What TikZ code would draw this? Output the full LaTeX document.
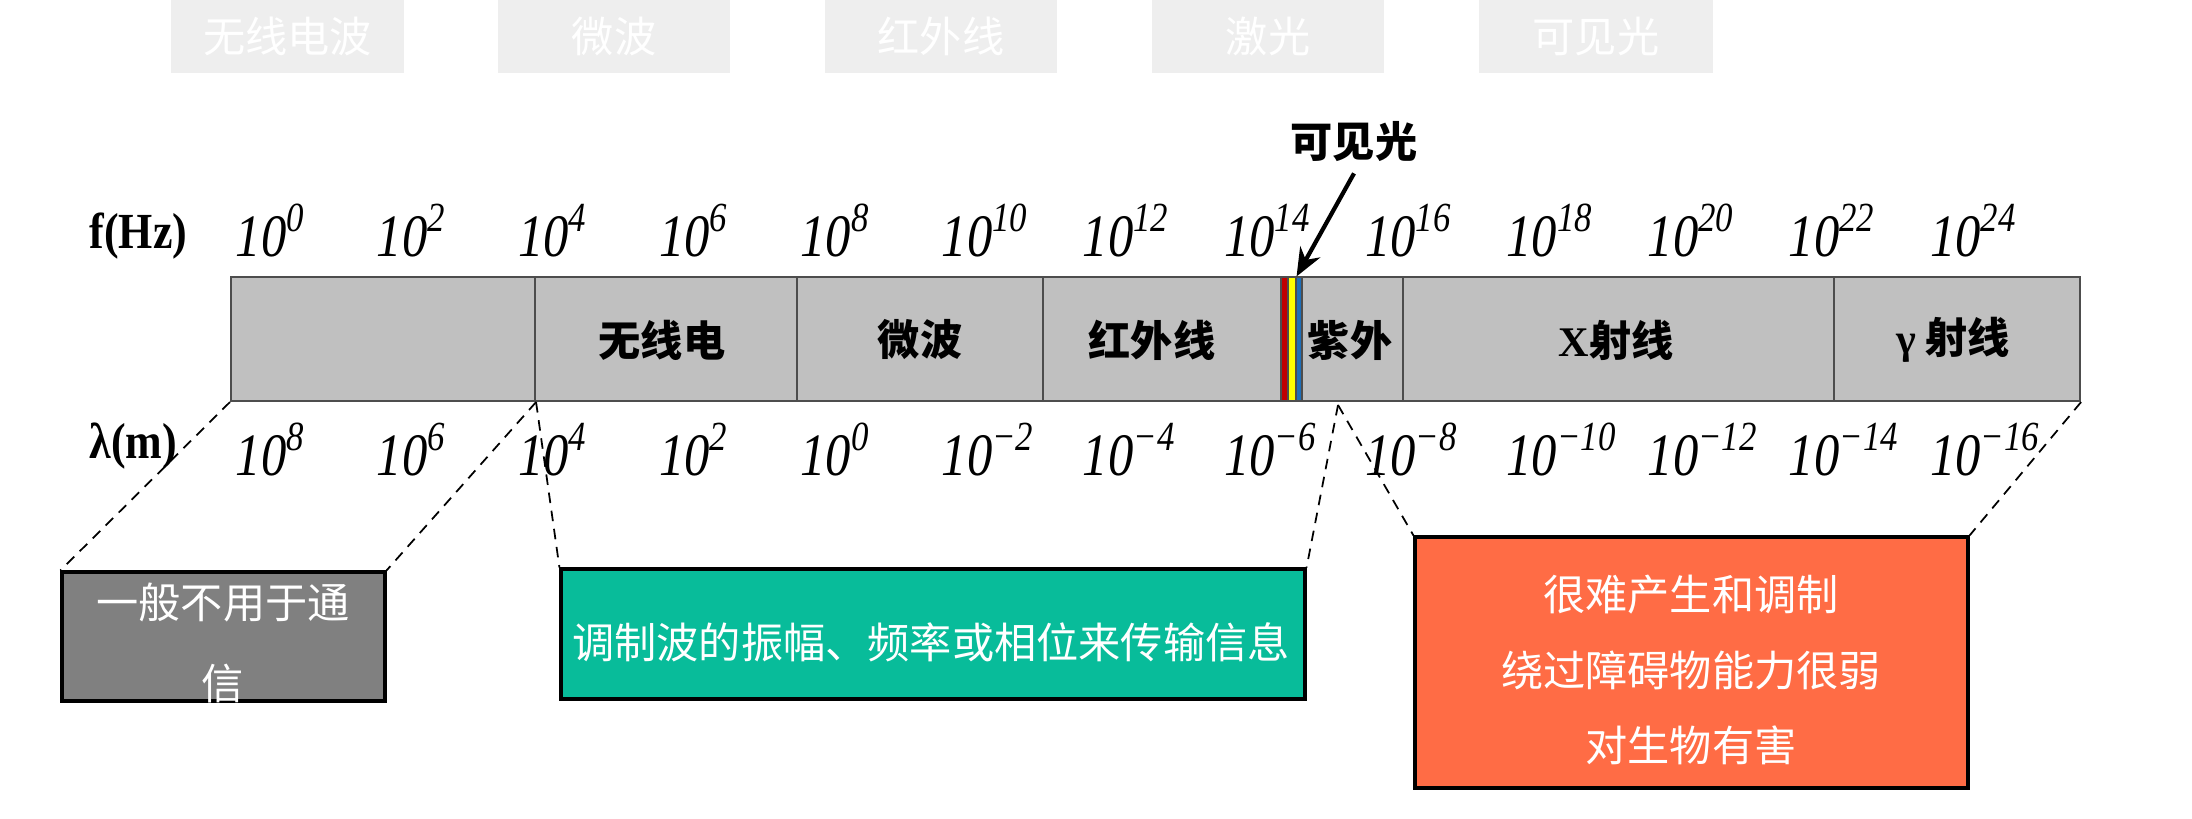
\documentclass[tikz,border=0pt]{standalone}
\usepackage{fontspec}
\setmainfont{Liberation Serif}
\newfontfamily\cjk{Noto Sans CJK SC}
\usetikzlibrary{fit,arrows.meta}
\definecolor{tabgray}{HTML}{EEEEEE}
\definecolor{bargray}{HTML}{C0C0C0}
\definecolor{divgray}{HTML}{4D4D4D}
\definecolor{boxgray}{HTML}{808080}
\definecolor{tealbox}{HTML}{08BC9A}
\definecolor{orangebox}{HTML}{FF6C45}
\definecolor{vred}{HTML}{C00000}
\definecolor{vyellow}{HTML}{FFFF00}
\definecolor{vblue}{HTML}{1F6FB8}
\newcommand\pw[1]{\scalebox{0.9}[1.07]{\fontsize{16}{16}\selectfont\itshape 10\raisebox{6.5pt}{\fontsize{11}{11}\selectfont #1}}}
\tikzset{
  tabbox/.style={fill=tabgray, draw=none, inner sep=0pt},
  tabtext/.style={text=white, inner sep=0pt, font=\cjk\fontsize{12}{14}\selectfont},
  segbox/.style={draw=divgray, line width=0.6pt, fill=bargray, inner sep=0pt},
  segtext/.style={inner sep=0pt, font=\cjk\bfseries\fontsize{12}{14}\selectfont},
  visband/.style={draw=divgray, line width=0.3pt, inner sep=0pt},
  pwr/.style={anchor=base west, inner sep=0pt},
  axislab/.style={anchor=base west, inner sep=0pt, font=\bfseries\fontsize{12.5}{14}\selectfont},
  infobox/.style={draw=black, line width=0.9pt, inner sep=0pt},
  infotext/.style={text=white, align=center, inner sep=0pt},
  dsh/.style={draw=black, line width=0.5pt, dash pattern=on 3pt off 2.2pt},
  arr/.style={draw=black, line width=1.2pt, -{Stealth[length=8pt,width=6.5pt]}}
}
\begin{document}
\begin{tikzpicture}[x=0.01cm,y=-0.01cm]
\fill[white] (0,0) rectangle (2192,818);
\useasboundingbox (0,0) rectangle (2192,818);
% top tabs
\node[tabbox, fit={(171,0) (404,73)}] (t1) {};
\node[tabbox, fit={(498,0) (730,73)}] (t2) {};
\node[tabbox, fit={(825,0) (1057,73)}] (t3) {};
\node[tabbox, fit={(1152,0) (1384,73)}] (t4) {};
\node[tabbox, fit={(1479,0) (1713,73)}] (t5) {};
\node[tabtext] (tt1) at (t1.center) {无线电波};
\node[tabtext] (tt2) at (t2.center) {微波};
\node[tabtext] (tt3) at (t3.center) {红外线};
\node[tabtext] (tt4) at (t4.center) {激光};
\node[tabtext] (tt5) at (t5.center) {可见光};
% bar segments
\node[segbox, fit={(231,277) (535,401)}] (s0) {};
\node[segbox, fit={(535,277) (797,401)}] (s1) {};
\node[segbox, fit={(797,277) (1043,401)}] (s2) {};
\node[segbox, fit={(1043,277) (1281,401)}] (s3) {};
\node[visband, fill=vred, fit={(1281,277) (1288,401)}] (vr) {};
\node[visband, fill=vyellow, fit={(1288,277) (1296,401)}] (vy) {};
\node[visband, fill=vblue, fit={(1296,277) (1302,401)}] (vb) {};
\node[segbox, fit={(1302,277) (1403,401)}] (s4) {};
\node[segbox, fit={(1403,277) (1834,401)}] (s5) {};
\node[segbox, fit={(1834,277) (2080,401)}] (s6) {};
\node[segtext] (l1) at (662,340) {无线电};
\node[segtext] (l2) at (920,340) {微波};
\node[segtext] (l3) at (1152,340) {红外线};
\node[segtext] (l4) at (1350,340) {紫外};
\node[segtext] (l5) at (1616,340) {{\rmfamily\bfseries X}射线};
\node[segtext] (l6) at (1953,340) {{\rmfamily\bfseries γ} 射线};
% axis labels
\node[axislab] (fhz) at (89,248) {\scalebox{1}[1.15]{f(Hz)}};
\node[axislab] (lam) at (89,458) {\scalebox{1}[1.15]{λ(m)}};
\foreach \e [count=\i from 0] in {0,2,4,6,8,10,12,14,16,18,20,22,24}
  \node[pwr] (f\i) at ({235+141.2*\i},256) {\pw{\e}};
\foreach \e [count=\i from 0] in {8,6,4,2,0,−2,−4,−6,−8,−10,−12,−14,−16}
  \node[pwr] (w\i) at ({235+141.2*\i},475) {\pw{\e}};
% visible light label and arrow
\node[inner sep=3pt, font=\cjk\bfseries\fontsize{12}{14}\selectfont] (vis) at (1354,142) {可见光};
\draw[arr] (vis.south) -- (vy.north east);
% info boxes
\node[infobox, fill=boxgray, fit={(62,572) (385,701)}] (gbox) {};
\node[infotext, font=\cjk\fontsize{12}{22.8}\selectfont] (gtxt) at (223,643) {一般不用于通\\信};
\node[infobox, fill=tealbox, fit={(561,569) (1305,699)}] (tbox) {};
\node[infotext, font=\cjk\fontsize{12}{14}\selectfont] (ttxt) at (931,642) {调制波的振幅、频率或相位来传输信息};
\node[infobox, fill=orangebox, fit={(1415,537) (1968,788)}] (obox) {};
\node[infotext, font=\cjk\fontsize{12}{21.5}\selectfont] (otxt) at (1691,670) {很难产生和调制\\绕过障碍物能力很弱\\对生物有害};
% dashed connectors
\coordinate (uv) at (1338,405);
\draw[dsh] (s0.south west) -- (gbox.north west);
\draw[dsh] (s0.south east) -- (gbox.north east);
\draw[dsh] (s0.south east) -- (tbox.north west);
\draw[dsh] (uv) -- (tbox.north east);
\draw[dsh] (uv) -- (obox.north west);
\draw[dsh] (s6.south east) -- (obox.north east);
\end{tikzpicture}
\end{document}
